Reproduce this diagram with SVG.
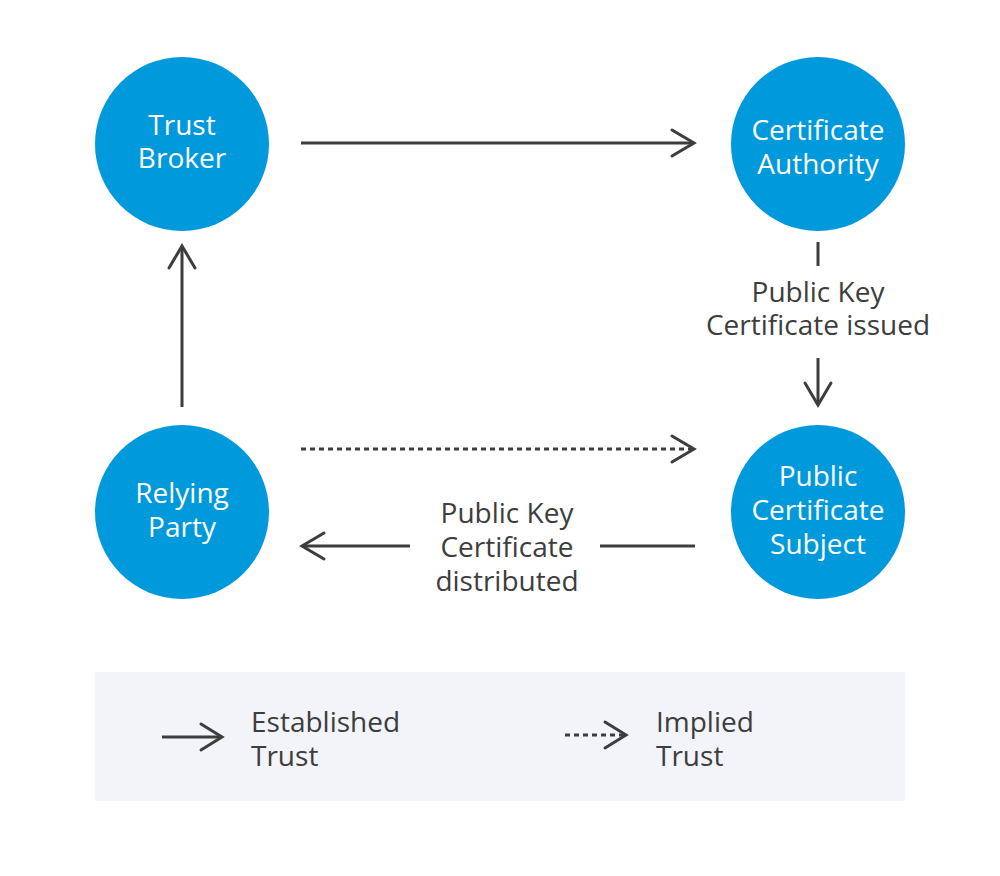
<svg xmlns="http://www.w3.org/2000/svg" width="1000" height="876" viewBox="0 0 1000 876">
<style>
.node{fill:#0099dc}
.nt{font-family:"Open Sans","Liberation Sans",sans-serif;font-size:28px;fill:#ffffff;text-anchor:middle}
.lt{font-family:"Open Sans","Liberation Sans",sans-serif;font-size:28px;fill:#3d3d3d;text-anchor:middle}
.lg{font-family:"Open Sans","Liberation Sans",sans-serif;font-size:28px;fill:#3d3d3d}
.ln{stroke:#3d3d3d;stroke-width:3;fill:none}
.dash{stroke-dasharray:5 4}
.hd{stroke:#3d3d3d;stroke-width:3;fill:none;stroke-linecap:round;stroke-linejoin:miter}
</style>
<rect width="1000" height="876" fill="#ffffff"/>
<g id="trust-broker">
<circle class="node" cx="182" cy="144" r="87"/>
<text class="nt" x="182" y="135">Trust</text>
<text class="nt" x="182" y="168">Broker</text>
</g>
<g id="certificate-authority">
<circle class="node" cx="818" cy="144" r="87"/>
<text class="nt" x="818" y="140">Certificate</text>
<text class="nt" x="818" y="174">Authority</text>
</g>
<g id="relying-party">
<circle class="node" cx="182" cy="512" r="87"/>
<text class="nt" x="182" y="503">Relying</text>
<text class="nt" x="182" y="537">Party</text>
</g>
<g id="public-certificate-subject">
<circle class="node" cx="818" cy="512" r="87"/>
<text class="nt" x="818" y="486">Public</text>
<text class="nt" x="818" y="520">Certificate</text>
<text class="nt" x="818" y="554">Subject</text>
</g>
<g id="connectors">
<line class="ln" x1="301" y1="143" x2="694" y2="143"/>
<polyline class="hd" points="672,130 694,143 672,156"/>
<line class="ln" x1="182" y1="407" x2="182" y2="246"/>
<polyline class="hd" points="169,268 182,246 195,268"/>
<line class="ln" x1="818" y1="242" x2="818" y2="266"/>
<text class="lt" x="818" y="302">Public Key</text>
<text class="lt" x="818" y="335">Certificate issued</text>
<line class="ln" x1="818" y1="358" x2="818" y2="405"/>
<polyline class="hd" points="805,383 818,405 831,383"/>
<line class="ln dash" x1="301" y1="449" x2="694" y2="449"/>
<polyline class="hd" points="672,436 694,449 672,462"/>
<line class="ln" x1="695" y1="546" x2="600" y2="546"/>
<line class="ln" x1="410" y1="546" x2="302" y2="546"/>
<polyline class="hd" points="324,533 302,546 324,559"/>
<text class="lt" x="507" y="523">Public Key</text>
<text class="lt" x="507" y="557">Certificate</text>
<text class="lt" x="507" y="591">distributed</text>
</g>
<g id="legend">
<rect x="95" y="672" width="810" height="129" fill="#f3f4f9"/>
<line class="ln" x1="162" y1="737" x2="222" y2="737"/>
<polyline class="hd" points="201,724 222,737 201,750"/>
<text class="lg" x="251" y="732">Established</text>
<text class="lg" x="251" y="766">Trust</text>
<line class="ln dash" x1="565" y1="735" x2="626" y2="735"/>
<polyline class="hd" points="605,722 626,735 605,748"/>
<text class="lg" x="656" y="732">Implied</text>
<text class="lg" x="656" y="766">Trust</text>
</g>
</svg>
